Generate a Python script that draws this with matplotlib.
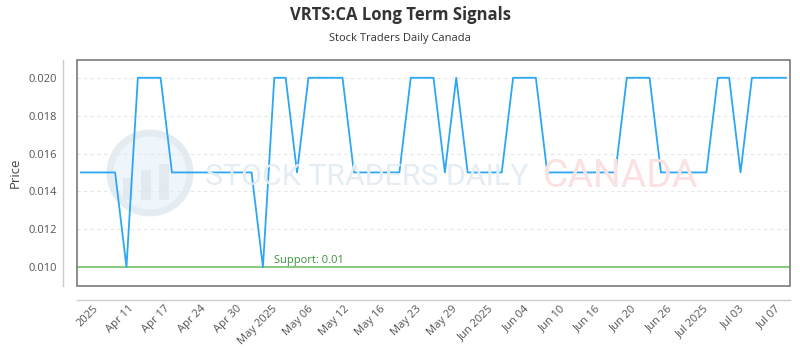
import matplotlib
matplotlib.use("Agg")
import matplotlib.pyplot as plt
from matplotlib.patches import Rectangle, Circle
from matplotlib import font_manager
import numpy as np

# Long term signal price, one value per trading day
price = [0.015, 0.015, 0.015, 0.015, 0.010, 0.020, 0.020, 0.020, 0.015, 0.015,
         0.015, 0.015, 0.015, 0.015, 0.015, 0.015, 0.010, 0.020, 0.020, 0.015,
         0.020, 0.020, 0.020, 0.020, 0.015, 0.015, 0.015, 0.015, 0.015, 0.020,
         0.020, 0.020, 0.015, 0.020, 0.015, 0.015, 0.015, 0.015, 0.020, 0.020,
         0.020, 0.015, 0.015, 0.015, 0.015, 0.015, 0.015, 0.015, 0.020, 0.020,
         0.020, 0.015, 0.015, 0.015, 0.015, 0.015, 0.020, 0.020, 0.015, 0.020,
         0.020, 0.020, 0.020]
support = 0.01
tick_labels = ["2025", "Apr 11", "Apr 17", "Apr 24", "Apr 30", "May 2025",
               "May 06", "May 12", "May 16", "May 23", "May 29", "Jun 2025",
               "Jun 04", "Jun 10", "Jun 16", "Jun 20", "Jun 26", "Jul 2025",
               "Jul 03", "Jul 07"]
y_ticks = [0.010, 0.012, 0.014, 0.016, 0.018, 0.020]

plt.rcParams['font.family'] = ['Open Sans', 'DejaVu Sans']

# narrow font for the watermark if one is around
names = {f.name for f in font_manager.fontManager.ttflist}
wm_font = 'Liberation Sans Narrow' if 'Liberation Sans Narrow' in names else 'Roboto'

fig = plt.figure(figsize=(8, 3.5), dpi=100)
ax = fig.add_axes([77 / 800, 1 - 286 / 350, 713 / 800, 226 / 350])

x = np.arange(len(price))
n = len(price) - 1

# watermark (logo + text), drawn faint behind everything
ax.add_patch(Circle((150, 350 - 173), 40, transform=None, facecolor='#eef6fc',
                    edgecolor='#e4ecf2', lw=5, zorder=0))
for bx, bh in [(128, 22), (146, 30), (164, 36)]:
    ax.add_patch(Rectangle((bx - 5, 350 - 200), 10, bh, transform=None,
                           facecolor='#e2e9ef', edgecolor='none', zorder=0))
wm1 = fig.text(205 / 800, 1 - 177 / 350, "STOCK TRADERS DAILY", color='#e4edf4',
               fontsize=30, va='center', ha='left', family=wm_font, zorder=0)
wm2 = fig.text(543 / 800, 1 - 177 / 350, "CANADA", color='#fbe1e1', fontsize=30,
               va='center', ha='left', family=wm_font, zorder=0)
# squeeze the watermark words to their widths in the original
r = fig.canvas.get_renderer()
for t, w in [(wm1, 322), (wm2, 155)]:
    cur = t.get_window_extent(r).width
    if cur > w:
        t.set_fontsize(30 * w / cur)

ax.plot(x, price, color='#2da7f5', lw=1.3, zorder=3)
ax.axhline(support, color='#8cca84', lw=1.5, zorder=2)
ax.text(17, support + 0.00006, "Support: 0.01", color='#3d9140', fontsize=8,
        va='bottom', ha='left', zorder=4)

# spines first: moving them resets the ticks
for s in ['top', 'right']:
    ax.spines[s].set_visible(False)
for s in ['left', 'bottom']:
    ax.spines[s].set_position(('outward', 10))
    ax.spines[s].set_color('#cccccc')
    ax.spines[s].set_linewidth(1)
ax.add_patch(Rectangle((0, 0), 1, 1, transform=ax.transAxes, fill=False,
                       edgecolor='#7a7a7a', lw=1.2, clip_on=False, zorder=5))

ax.set_xlim(-0.35, n + 0.35)
ax.set_ylim(0.009, 0.02094)
ax.set_yticks(y_ticks)
ax.set_yticklabels([f"{v:.3f}" for v in y_ticks])
ax.set_xticks(np.linspace(1.05, n - 1.0, len(tick_labels)))
ax.set_xticklabels(tick_labels)
ax.tick_params(axis='both', length=0, colors='#555555', labelsize=8)
ax.tick_params(axis='x', pad=2.5, labelrotation=45)
ax.tick_params(axis='y', pad=4.5)
for lab in ax.get_xticklabels():
    lab.set_ha('right')
    lab.set_rotation_mode('anchor')
ax.grid(axis='y', color='#e6e6e6', ls=(0, (3, 3)), lw=0.8)
ax.set_axisbelow(True)
ax.patch.set_alpha(0)

ax.set_ylabel("Price", fontsize=9.5, color='#444444', labelpad=5)
fig.text(0.5, 1 - 15 / 350, "VRTS:CA Long Term Signals", ha='center',
         va='center', fontsize=12, fontweight='bold', color='#333333')
fig.text(0.5, 1 - 39 / 350, "Stock Traders Daily Canada", ha='center',
         va='center', fontsize=8, color='#333333')

fig.savefig("out.png", dpi=100)
